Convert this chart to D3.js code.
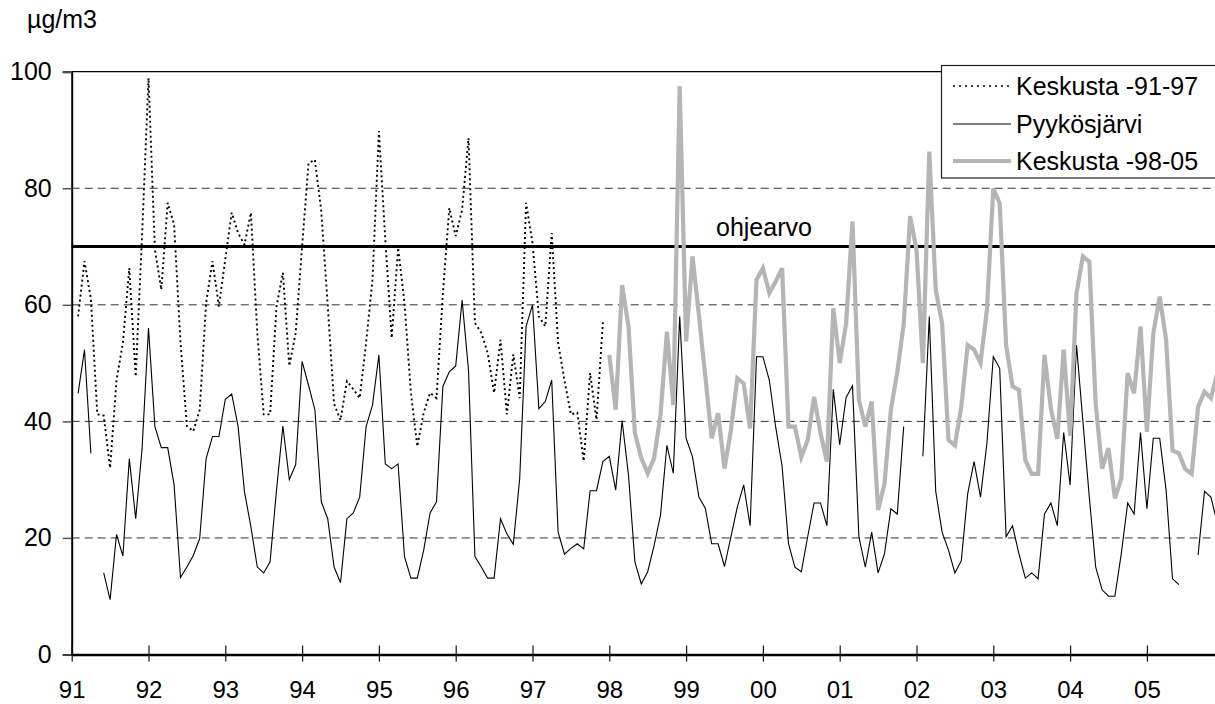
<!DOCTYPE html>
<html>
<head>
<meta charset="utf-8">
<script src="https://cdn.jsdelivr.net/npm/d3@7"></script>
<style>
  html, body { margin: 0; padding: 0; background: #fff; }
  svg { display: block; font-family: "Liberation Sans", Arial, sans-serif; }
</style>
</head>
<body>
<svg id="chart" width="1215" height="704"></svg>
<script>
// Monthly means, index 0 = January 1991; null = no measurement
const keskusta9197 = [null,
  58, 67.5, 61, 41.2, 41, 32, 47, 53.5, 66.3, 47.7, 72,
  98.9, 69.5, 62.6, 77.5, 73.8, 53.5, 39.2, 38.3, 42, 60.3, 67.5, 59.7,
  67.8, 75.8, 72.3, 70.3, 75.8, 55.2, 41.2, 41.2, 59.7, 65.5, 49.5, 55.2,
  70, 84.3, 84.9, 76, 60, 43, 40.2, 46.9, 45.5, 44, 53.5, 64.3,
  89.8, 71.2, 54.3, 69.8, 60.3, 44.9, 35.7, 41.5, 44.9, 44, 62, 76.6,
  71.8, 76.3, 88.6, 56.9, 55.2, 51.7, 44.9, 54, 41.2, 51.5, 44, 77.5,
  70.6, 58, 56.3, 72.3, 53.5, 47, 41.2, 41.5, 33.2, 48.3, 40.3, 57
];

const pyykosjarvi = [null,
  44.8, 52.3, 34.5, null, 14, 9.4, 20.6, 16.9, 33.6, 23.3, 35.4,
  56, 39.1, 35.5, 35.5, 29.1, 13.2, 15, 17, 19.9, 33.6, 37.4, 37.4,
  43.8, 44.7, 39.1, 27.9, 21.9, 15, 14, 15.9, 28.2, 39.2, 30, 32.6,
  50.3, 46.2, 42, 26.2, 23.3, 15, 12.3, 23.3, 24.3, 27, 39.1, 42.8,
  51.4, 32.7, 31.9, 32.7, 16.8, 13.1, 13.1, 17.9, 24.3, 26.2, 46, 48.5,
  49.5, 60.8, 48.8, 16.8, 15, 13.1, 13.1, 23.3, 20.7, 18.9, 30.2, 56.3,
  60, 42.2, 43.4, 47.1, 21, 17.2, 18.2, 19, 18.1, 28.1, 28.1, 33.1,
  34, 28.2, 40.1, 30.8, 15.9, 12.1, 14.2, 18.7, 23.9, 35.9, 31.1, 58,
  37.1, 33.9, 27, 25.1, 19, 19, 15.1, 20.2, 25.3, 29.1, 22.1, 51.1,
  51.1, 47.1, 39, 32.3, 19, 15, 14.2, 20.2, 26, 26, 22.1, 45.5,
  36, 44.1, 46.1, 20.2, 15, 21, 14, 17.3, 25, 24.1, 39.1, null,
  null, 34, 58, 28, 21, 17.9, 14, 16.1, 27.6, 33.1, 27, 36.2,
  51.1, 49.1, 20.2, 22.1, 17.3, 13.1, 14, 13, 24.1, 26, 22.1, 38.1,
  29.1, 53.1, 40, 27, 15, 11.1, 10, 10, 17.3, 26, 24.1, 38.1,
  25, 37.1, 37.1, 28.2, 13, 12, null, null, 17.1, 28, 27, 22.5
];

const keskusta9805 = [
  51.4, 42, 63.4, 56.3, 38, 33.7, 31.1, 33.7, 41.1, 55.4, 42.8, 97.5,
  53.7, 68.3, 58.3, 47.7, 37.1, 41.4, 31.9, 38.5, 47.4, 46.5, 38.8, 64.3,
  66.3, 62, 64, 66.3, 39.1, 39.1, 33.9, 36.8, 44.2, 38, 33.1, 59.4,
  50, 56.8, 74.3, 43.7, 39.1, 43.4, 24.8, 29.3, 42, 48.5, 56.6, 75.2,
  69.4, 50, 86.3, 62.6, 56.8, 36.8, 35.9, 42.5, 53.1, 52.3, 50, 59.1,
  80, 77.4, 53.1, 46, 45.4, 33.4, 31, 31, 51.4, 42.2, 37, 52.3,
  37.5, 62, 68.3, 67.4, 43, 31.9, 35.4, 26.8, 30.2, 48.3, 44.8, 56.3,
  38.2, 55.1, 61.4, 54, 35, 34.5, 31.8, 31, 42.5, 45.1, 44, 48.3
];
const keskusta9805Start = 84;   // January 1998

const yearLabels = ["91","92","93","94","95","96","97","98","99","00","01","02","03","04","05"];
const yTicks = [0, 20, 40, 60, 80, 100];
const gridValues = [20, 40, 60, 80];
const guideValue = 70;
const guideLabel = "ohjearvo";
const unitLabel = "µg/m3";
const seriesNames = ["Keskusta -91-97", "Pyykösjärvi", "Keskusta -98-05"];

const svg = d3.select("#chart");
const plotLeft = 71.7, plotTop = 71.7, plotBottom = 654.5;
const monthPx = 6.4;

const x = d3.scaleLinear().domain([0, 180]).range([plotLeft, plotLeft + 180 * monthPx]);
const y = d3.scaleLinear().domain([0, 100]).range([plotBottom, plotTop]);

// horizontal dashed grid
svg.append("g").selectAll("line").data(gridValues).join("line")
  .attr("x1", plotLeft).attr("x2", 1215)
  .attr("y1", d => y(d)).attr("y2", d => y(d))
  .attr("stroke", "#333").attr("stroke-width", 1)
  .attr("stroke-dasharray", "8,5");

// top frame edge
svg.append("line")
  .attr("x1", plotLeft).attr("x2", 1215)
  .attr("y1", y(100)).attr("y2", y(100))
  .attr("stroke", "#000").attr("stroke-width", 1.2);

// y axis
const yAxis = d3.axisLeft(y).tickValues(yTicks).tickSize(9).tickPadding(11).tickFormat(d3.format("d"));
const gy = svg.append("g").attr("transform", `translate(${plotLeft},0)`).call(yAxis);
gy.select(".domain").attr("stroke", "#000").attr("stroke-width", 2);
gy.selectAll(".tick line").attr("stroke", "#555").attr("stroke-width", 1.5);
gy.selectAll(".tick text").attr("font-size", 25).attr("fill", "#000")
  .attr("font-family", "'Liberation Sans', Arial, sans-serif");

// x axis: ticks every 12 months, crossing the axis line
const xTickIdx = yearLabels.map((_, i) => i * 12);
const xAxis = d3.axisBottom(x).tickValues(xTickIdx)
  .tickFormat((d, i) => yearLabels[i]).tickSizeInner(7).tickSizeOuter(0).tickPadding(19);
const gx = svg.append("g").attr("transform", `translate(0,${plotBottom})`).call(xAxis);
gx.select(".domain").attr("stroke", "#000").attr("stroke-width", 2.5);
gx.selectAll(".tick line").attr("y1", -9).attr("y2", 7).attr("stroke", "#111").attr("stroke-width", 1.2);
gx.selectAll(".tick text").attr("font-size", 24).attr("fill", "#000")
  .attr("font-family", "'Liberation Sans', Arial, sans-serif");

// guide value line
svg.append("line")
  .attr("x1", plotLeft).attr("x2", 1215)
  .attr("y1", y(guideValue)).attr("y2", y(guideValue))
  .attr("stroke", "#000").attr("stroke-width", 3);
svg.append("text")
  .attr("x", 716).attr("y", y(guideValue) - 11)
  .attr("font-size", 25).text(guideLabel);

const line = d3.line().defined(d => d.v != null).x(d => x(d.i)).y(d => y(d.v));
const toPts = (arr, start) => arr.map((v, k) => ({ i: start + k, v }));

svg.append("path").datum(toPts(pyykosjarvi, 0)).attr("d", line)
  .attr("fill", "none").attr("stroke", "#000").attr("stroke-width", 1.1)
  .attr("stroke-linejoin", "miter");

svg.append("path").datum(toPts(keskusta9805, keskusta9805Start)).attr("d", line)
  .attr("fill", "none").attr("stroke", "#b5b5b5").attr("stroke-width", 4.2)
  .attr("stroke-linejoin", "miter");

svg.append("path").datum(toPts(keskusta9197, 0)).attr("d", line)
  .attr("fill", "none").attr("stroke", "#000").attr("stroke-width", 1.9)
  .attr("stroke-dasharray", "2,3");

// unit label
svg.append("text").attr("x", 27).attr("y", 28).attr("font-size", 25).text(unitLabel);

// legend
const lg = svg.append("g");
lg.append("rect").attr("x", 941.5).attr("y", 65.5).attr("width", 300).attr("height", 112.5)
  .attr("fill", "#fff").attr("stroke", "#222").attr("stroke-width", 1.2);
const legendRows = [
  { name: seriesNames[0], y: 86, stroke: "#000", w: 1.3, dash: "2,4" },
  { name: seriesNames[1], y: 124, stroke: "#000", w: 1.1, dash: null },
  { name: seriesNames[2], y: 161, stroke: "#b5b5b5", w: 4.2, dash: null }
];
legendRows.forEach(r => {
  lg.append("line").attr("x1", 953).attr("x2", 1011).attr("y1", r.y).attr("y2", r.y)
    .attr("stroke", r.stroke).attr("stroke-width", r.w)
    .attr("stroke-dasharray", r.dash);
  lg.append("text").attr("x", 1016).attr("y", r.y + 9).attr("font-size", 25).text(r.name);
});
</script>
</body>
</html>
